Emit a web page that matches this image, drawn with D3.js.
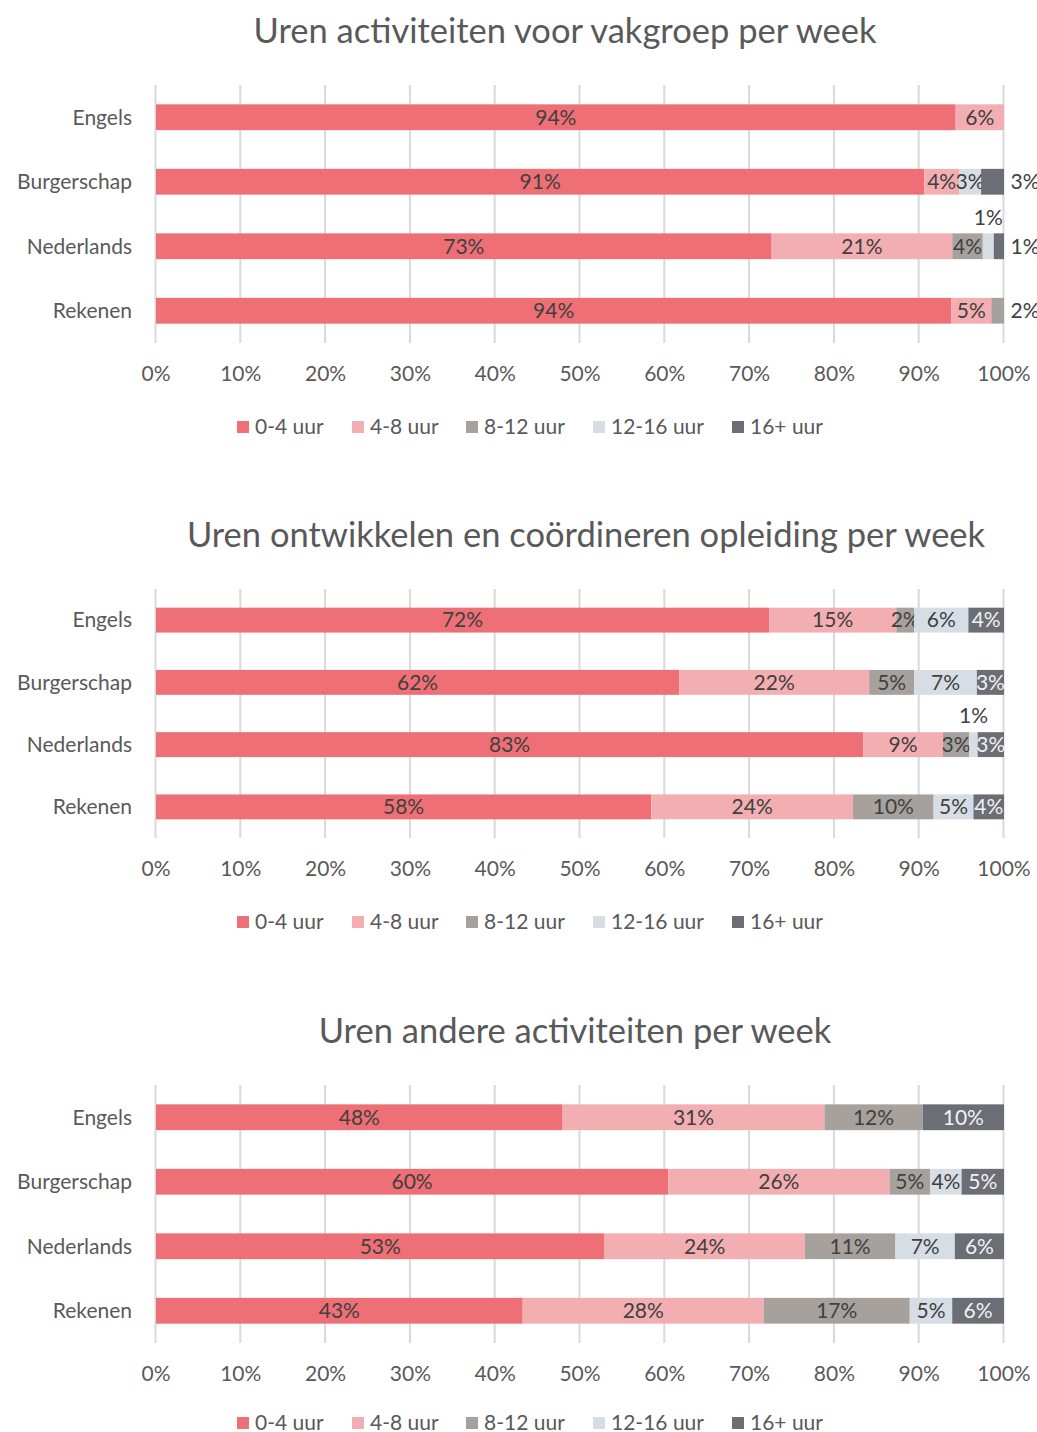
<!DOCTYPE html>
<html>
<head>
<meta charset="utf-8">
<script src="https://cdn.jsdelivr.net/npm/d3@7"></script>
<style>
  body { margin: 0; background: #fff; }
  svg text { font-family: Lato, "Open Sans", sans-serif; }
</style>
</head>
<body>
<svg id="chart" width="1037" height="1432"></svg>
<script>
const categories = ["Engels", "Burgerschap", "Nederlands", "Rekenen"];
const seriesNames = ["0-4 uur", "4-8 uur", "8-12 uur", "12-16 uur", "16+ uur"];
const tickLabels = ["0%", "10%", "20%", "30%", "40%", "50%", "60%", "70%", "80%", "90%", "100%"];

const titles = [
  "Uren activiteiten voor vakgroep per week",
  "Uren ontwikkelen en coördineren opleiding per week",
  "Uren andere activiteiten per week"
];

// values per category (Engels, Burgerschap, Nederlands, Rekenen) per series, in %
const chart1_04  = [94.3, 90.6, 72.6, 93.8];
const chart1_48  = [5.7, 4.1, 21.3, 4.7];
const chart1_812 = [0, 0, 3.6, 1.5];
const chart1_1216 = [0, 2.6, 1.3, 0];
const chart1_16  = [0, 2.7, 1.2, 0];

const chart2_04  = [72.3, 61.7, 83.4, 58.4];
const chart2_48  = [15.0, 22.4, 9.4, 23.8];
const chart2_812 = [2.1, 5.3, 3.1, 9.5];
const chart2_1216 = [6.4, 7.4, 1.0, 4.7];
const chart2_16  = [4.2, 3.2, 3.1, 3.6];

const chart3_04  = [48.0, 60.4, 52.9, 43.2];
const chart3_48  = [30.9, 26.1, 23.6, 28.4];
const chart3_812 = [11.6, 4.8, 10.7, 17.2];
const chart3_1216 = [0, 3.7, 7.0, 5.0];
const chart3_16  = [9.6, 5.0, 5.8, 6.1];

const chartData = [
  [chart1_04, chart1_48, chart1_812, chart1_1216, chart1_16],
  [chart2_04, chart2_48, chart2_812, chart2_1216, chart2_16],
  [chart3_04, chart3_48, chart3_812, chart3_1216, chart3_16]
];

const colors = ["#ee6f75", "#f2aeb1", "#a6a19d", "#d6dde5", "#6b6e74"];
const labelColors = ["#404040", "#404040", "#404040", "#404040", "#f2f2f2"];

// label placement overrides: [chart, categoryIndex, seriesIndex, mode]
const labelOverrides = [
  [0, 1, 4, "right"],
  [0, 2, 3, "above"],
  [0, 2, 4, "right"],
  [0, 3, 2, "right"],
  [1, 2, 3, "above"]
];

const layout = [
  { titleY: 31, titleX: 565, top: 85, bottom: 343, legendY: 427 },
  { titleY: 535, titleX: 586, top: 589, bottom: 838, legendY: 922 },
  { titleY: 1031, titleX: 575, top: 1085, bottom: 1343, legendY: 1423 }
];

const FS = 21;
const svg = d3.select("#chart");
const x = d3.scaleLinear().domain([0, 100]).range([156, 1004]);
const legendX = [237, 352, 466, 593, 732];

chartData.forEach((series, ci) => {
  const L = layout[ci];
  const g = svg.append("g");
  const y = d3.scaleBand().domain(categories).range([L.top, L.bottom])
    .paddingInner(0.6).paddingOuter(0.3);

  g.append("text").attr("x", L.titleX).attr("y", L.titleY).attr("dy", "0.35em")
    .attr("text-anchor", "middle").attr("font-size", 34.5).attr("fill", "#595959")
    .text(titles[ci]);

  // gridlines
  g.append("g").selectAll("line").data(d3.range(0, 101, 10)).join("line")
    .attr("x1", d => x(d) - 0.5).attr("x2", d => x(d) - 0.5)
    .attr("y1", L.top).attr("y2", L.bottom)
    .attr("stroke", "#d9d9d9").attr("stroke-width", 2);

  // tick labels
  g.append("g").selectAll("text").data(tickLabels).join("text")
    .attr("x", (d, i) => x(i * 10)).attr("y", L.bottom + 31).attr("dy", "0.35em")
    .attr("text-anchor", "middle").attr("font-size", FS).attr("fill", "#595959")
    .text(d => d);

  // category labels
  g.append("g").selectAll("text").data(categories).join("text")
    .attr("x", 132).attr("y", d => y(d) + y.bandwidth() / 2).attr("dy", "0.35em")
    .attr("text-anchor", "end").attr("font-size", FS).attr("fill", "#595959")
    .text(d => d);

  // stacking
  const rows = categories.map((c, k) => {
    const vals = series.map(s => s[k]);
    const tot = d3.sum(vals);
    return { cat: c, vals, norm: vals.map(v => v / tot * 100) };
  });

  rows.forEach((r, k) => {
    let acc = 0;
    r.norm.forEach((v, si) => {
      const x0 = acc, x1 = acc + v;
      acc = x1;
      if (r.vals[si] <= 0) return;
      const yy = y(r.cat);
      g.append("rect").attr("x", x(x0)).attr("y", yy)
        .attr("width", x(x1) - x(x0)).attr("height", y.bandwidth())
        .attr("fill", colors[si]);
      const ov = labelOverrides.find(o => o[0] === ci && o[1] === k && o[2] === si);
      let lx = (x(x0) + x(x1)) / 2, ly = yy + y.bandwidth() / 2, col = labelColors[si];
      if (ov && ov[3] === "right") { lx = x(100) + 21; col = "#404040"; }
      if (ov && ov[3] === "above") { ly = yy + y.bandwidth() / 2 - 29; col = "#404040"; }
      g.append("text").attr("x", lx).attr("y", ly).attr("dy", "0.35em")
        .attr("text-anchor", "middle").attr("font-size", FS).attr("fill", col)
        .text(Math.round(r.vals[si]) + "%");
    });
  });

  // legend
  const lg = g.append("g").selectAll("g").data(seriesNames).join("g")
    .attr("transform", (d, i) => `translate(${legendX[i]},${L.legendY})`);
  lg.append("rect").attr("x", 0).attr("y", -6).attr("width", 12).attr("height", 12)
    .attr("fill", (d, i) => colors[i]);
  lg.append("text").attr("x", 18).attr("y", 0).attr("dy", "0.35em")
    .attr("font-size", FS).attr("fill", "#595959").text(d => d);
});
</script>
</body>
</html>
